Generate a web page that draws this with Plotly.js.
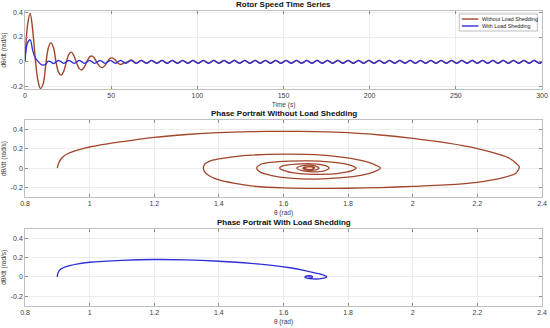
<!DOCTYPE html>
<html><head><meta charset="utf-8">
<script src="https://cdn.plot.ly/plotly-3.0.1.min.js"></script>
<style>html,body{margin:0;padding:0;background:#fff}#chart{width:550px;height:328px}</style>
</head><body><div id="chart"></div>
<script>
// Time series sampled every 1.5 s from 0 to 300 s
var tStart = 0, tStep = 1.5;
var speedWithout = [
0,0.30,0.39,0.25,0.02,-0.15,-0.215,-0.18,-0.03,0.11,
0.155,0.115,0.0,-0.085,-0.107,-0.075,0.0,0.062,0.078,0.045,
-0.01,-0.055,-0.066,-0.04,0.005,0.04,0.046,0.025,-0.012,-0.04,
-0.045,-0.028,0.005,0.03,0.03,0.012,-0.012,-0.022,-0.012,-0.006,
0.004,0.016,0.003,-0.013,0,
0.012,0,-0.012,0, 0.012,0,-0.012,0, 0.012,0,-0.012,0, 0.012,0,-0.012,0, 0.012,0,-0.012,0,
0.012,0,-0.012,0, 0.012,0,-0.012,0, 0.012,0,-0.012,0, 0.012,0,-0.012,0, 0.012,0,-0.012,0,
0.012,0,-0.012,0, 0.012,0,-0.012,0, 0.012,0,-0.012,0, 0.012,0,-0.012,0, 0.012,0,-0.012,0,
0.012,0,-0.012,0, 0.012,0,-0.012,0, 0.012,0,-0.012,0, 0.012,0,-0.012,0, 0.012,0,-0.012,0,
0.012,0,-0.012,0, 0.012,0,-0.012,0, 0.012,0,-0.012,0, 0.012,0,-0.012,0, 0.012,0,-0.012,0,
0.012,0,-0.012,0, 0.012,0,-0.012,0, 0.012,0,-0.012,0, 0.012,0,-0.012,0, 0.012,0,-0.012,0,
0.012,0,-0.012,0, 0.012,0,-0.012,0, 0.012,0,-0.012,0, 0.012,0,-0.012,0, 0.012,0,-0.012,0,
0.012,0,-0.012,0, 0.012,0,-0.012,0, 0.012,0,-0.012,0, 0.012,0,-0.012,0
];
var speedWith = [
0,0.155,0.178,0.09,0.03,0.005,-0.018,-0.027,-0.02,0.006,
0.0,-0.014,-0.002,0.012,0,-0.012,0,
0.012,0,-0.012,0, 0.012,0,-0.012,0, 0.012,0,-0.012,0, 0.012,0,-0.012,0, 0.012,0,-0.012,0,
0.012,0,-0.012,0, 0.012,0,-0.012,0, 0.012,0,-0.012,0, 0.012,0,-0.012,0, 0.012,0,-0.012,0,
0.012,0,-0.012,0, 0.012,0,-0.012,0, 0.012,0,-0.012,0, 0.012,0,-0.012,0, 0.012,0,-0.012,0,
0.012,0,-0.012,0, 0.012,0,-0.012,0, 0.012,0,-0.012,0, 0.012,0,-0.012,0, 0.012,0,-0.012,0,
0.012,0,-0.012,0, 0.012,0,-0.012,0, 0.012,0,-0.012,0, 0.012,0,-0.012,0, 0.012,0,-0.012,0,
0.012,0,-0.012,0, 0.012,0,-0.012,0, 0.012,0,-0.012,0, 0.012,0,-0.012,0, 0.012,0,-0.012,0,
0.012,0,-0.012,0, 0.012,0,-0.012,0, 0.012,0,-0.012,0, 0.012,0,-0.012,0, 0.012,0,-0.012,0,
0.012,0,-0.012,0, 0.012,0,-0.012,0, 0.012,0,-0.012,0, 0.012,0,-0.012,0, 0.012,0,-0.012,0,
0.012,0,-0.012,0, 0.012,0,-0.012,0, 0.012,0,-0.012,0, 0.012,0,-0.012,0, 0.012,0,-0.012,0,
0.012,0,-0.012,0
];

// Phase portrait without load shedding
var thetaWithout = [
0.9,0.904,0.915,0.935,0.965,1.0,1.05,1.1,1.2,1.3,1.4,1.5,1.6,1.7,1.8,1.9,2.0,2.1,2.2,2.27,2.3,2.32,2.33,
2.32,2.28,2.2,2.1,2.0,1.9,1.8,1.7,1.6,1.5,1.45,1.4,1.37,1.356,1.352,
1.356,1.37,1.4,1.45,1.5,1.6,1.7,1.78,1.84,1.88,1.9,
1.88,1.84,1.78,1.7,1.62,1.56,1.53,1.517,
1.53,1.56,1.62,1.68,1.74,1.79,1.815,1.825,
1.81,1.77,1.71,1.65,1.61,1.588,
1.6,1.64,1.69,1.73,1.741,
1.73,1.69,1.655,1.641,
1.66,1.69,1.705,1.71,
1.7,1.675,1.662,1.66,
1.668,1.685,1.696,1.69,1.675,1.666,1.672,1.688,1.694,1.688,1.674,1.667,1.672,1.686,1.692
];
var omegaWithout = [
0,0.05,0.11,0.155,0.19,0.22,0.25,0.275,0.32,0.35,0.37,0.38,0.383,0.38,0.37,0.345,0.31,0.265,0.204,0.14,0.10,0.05,0.013,
-0.05,-0.10,-0.148,-0.175,-0.19,-0.203,-0.21,-0.212,-0.207,-0.186,-0.16,-0.124,-0.08,-0.04,0,
0.04,0.07,0.095,0.12,0.135,0.145,0.14,0.115,0.08,0.04,0,
-0.04,-0.075,-0.1,-0.115,-0.105,-0.075,-0.045,0,
0.04,0.06,0.073,0.075,0.065,0.045,0.02,0,
-0.03,-0.055,-0.065,-0.058,-0.035,0,
0.025,0.042,0.045,0.025,0,
-0.025,-0.04,-0.025,0,
0.025,0.028,0.012,0,
-0.018,-0.02,-0.008,0,
0.012,0.014,0.004,-0.012,-0.014,-0.004,0.012,0.013,0.002,-0.012,-0.013,-0.003,0.012,0.013,0.002
];

// Phase portrait with load shedding
var thetaWith = [
0.9,0.902,0.91,0.93,0.96,1.0,1.1,1.2,1.3,1.4,1.5,1.57,1.62,1.66,1.7,1.725,1.734,
1.728,1.71,1.69,1.675,1.668,
1.672,1.685,1.69,1.683,1.67,1.666,1.672,1.686,1.69,1.684,1.671,1.667,1.673,1.685
];
var omegaWith = [
0,0.04,0.08,0.11,0.133,0.152,0.172,0.18,0.176,0.162,0.14,0.118,0.095,0.07,0.04,0.018,0.003,
-0.01,-0.02,-0.02,-0.014,-0.004,
0.008,0.01,0.0,-0.01,-0.01,0,0.01,0.01,0,-0.01,-0.01,0,0.009,0.009
];

var yTickVals = [-0.2, 0, 0.2, 0.4];
var yTickText = ['-0.2', '0', '0.2', '0.4'];
var seriesNames = ['Without Load Shedding', 'With Load Shedding'];

var redColor = '#A2452B', blueColor = '#2F2FD6';

var traces = [
  {x0: tStart, dx: tStep, y: speedWithout, type: 'scatter', mode: 'lines', name: seriesNames[0], showlegend: false,
   line: {color: redColor, width: 1.4, shape: 'spline', smoothing: 1}, xaxis: 'x', yaxis: 'y'},
  {x0: tStart, dx: tStep, y: speedWith, type: 'scatter', mode: 'lines', name: seriesNames[1], showlegend: false,
   line: {color: blueColor, width: 1.3, shape: 'spline', smoothing: 1}, xaxis: 'x', yaxis: 'y'},
  {x: thetaWithout, y: omegaWithout, type: 'scatter', mode: 'lines', showlegend: false,
   line: {color: redColor, width: 1.3, shape: 'spline', smoothing: 0.8}, xaxis: 'x2', yaxis: 'y2'},
  {x: thetaWith, y: omegaWith, type: 'scatter', mode: 'lines', showlegend: false,
   line: {color: blueColor, width: 1.3, shape: 'spline', smoothing: 0.8}, xaxis: 'x3', yaxis: 'y3'}
];

var fam = 'Liberation Sans, Arial, sans-serif';
var tickFont = {family: fam, size: 7, color: '#404040'};
var labFont = {family: fam, size: 6.5, color: '#404040'};
function xa(range, dtick, anchor, title) {
  return {range: range, dtick: dtick, anchor: anchor, showgrid: true, gridcolor: '#e8e8e8', gridwidth: 0.8,
    zeroline: false, showline: true, linecolor: '#b0b0b0', linewidth: 0.8, mirror: 'ticks',
    ticks: 'inside', ticklen: 3, tickcolor: '#909090', tickfont: tickFont, automargin: false,
    title: {text: title, font: labFont, standoff: 4}};
}
function ya(range, anchor, domain) {
  return {range: range, domain: domain, anchor: anchor, tickvals: yTickVals, ticktext: yTickText,
    showgrid: true, gridcolor: '#e8e8e8', gridwidth: 0.8,
    zeroline: false, showline: true, linecolor: '#b0b0b0', linewidth: 0.8, mirror: 'ticks',
    ticks: 'inside', ticklen: 3, tickcolor: '#909090', tickfont: tickFont, automargin: false,
    title: {text: 'd\u03b8/dt (rad/s)', font: labFont, standoff: 3}};
}

var titleFont = {family: fam, size: 8, color: '#111'};
var legFont = {family: fam, size: 5.4, color: '#222'};
var layout = {
  width: 550, height: 328,
  margin: {l: 25, r: 8, t: 11, b: 22},
  paper_bgcolor: '#fff', plot_bgcolor: '#fff',
  showlegend: false,
  xaxis: xa([0, 300], 50, 'y', 'Time (s)'),
  yaxis: ya([-0.22, 0.41], 'x', [0.7353, 1]),
  xaxis2: xa([0.8, 2.4], 0.2, 'y2', '\u03b8 (rad)'),
  yaxis2: ya([-0.3, 0.5], 'x2', [0.3699, 0.6301]),
  xaxis3: xa([0.8, 2.4], 0.2, 'y3', '\u03b8 (rad)'),
  yaxis3: ya([-0.3, 0.5], 'x3', [0, 0.2626]),
  shapes: [
    {type: 'rect', xref: 'x domain', yref: 'y domain', x0: 0.840, x1: 0.991, y0: 0.744, y1: 0.9615,
     fillcolor: '#fff', line: {color: '#a0a0a0', width: 0.7}, layer: 'above'},
    {type: 'line', xref: 'x domain', yref: 'y domain', x0: 0.845, x1: 0.877, y0: 0.897, y1: 0.897,
     line: {color: redColor, width: 1.4}, layer: 'above'},
    {type: 'line', xref: 'x domain', yref: 'y domain', x0: 0.845, x1: 0.877, y0: 0.808, y1: 0.808,
     line: {color: blueColor, width: 1.4}, layer: 'above'}
  ],
  annotations: [
    {text: '<b>Rotor Speed Time Series</b>', xref: 'paper', yref: 'paper', x: 0.5, y: 1, yanchor: 'bottom', showarrow: false, font: titleFont},
    {text: '<b>Phase Portrait Without Load Shedding</b>', xref: 'paper', yref: 'paper', x: 0.5, y: 0.6301, yanchor: 'bottom', showarrow: false, font: titleFont},
    {text: '<b>Phase Portrait With Load Shedding</b>', xref: 'paper', yref: 'paper', x: 0.5, y: 0.2626, yanchor: 'bottom', showarrow: false, font: titleFont},
    {text: seriesNames[0], xref: 'x domain', yref: 'y domain', x: 0.882, y: 0.897, xanchor: 'left', yanchor: 'middle', showarrow: false, font: legFont, borderpad: 0},
    {text: seriesNames[1], xref: 'x domain', yref: 'y domain', x: 0.882, y: 0.808, xanchor: 'left', yanchor: 'middle', showarrow: false, font: legFont, borderpad: 0}
  ]
};

Plotly.newPlot('chart', traces, layout, {displayModeBar: false, staticPlot: true});
</script></body></html>
